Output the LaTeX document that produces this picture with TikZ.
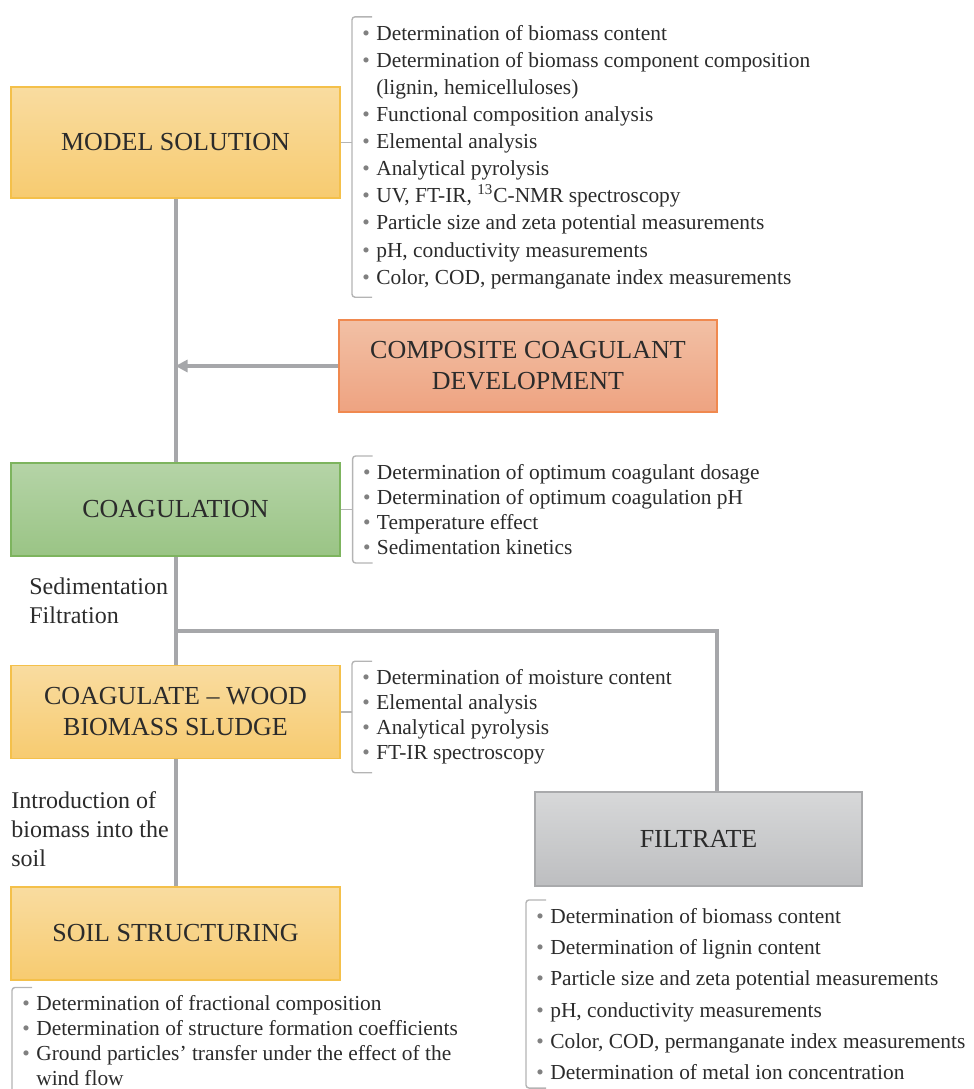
\documentclass[tikz,border=0pt]{standalone}
\usepackage{fontspec}
\setmainfont{Liberation Serif}
\usetikzlibrary{arrows.meta,positioning}

\definecolor{goldTop}{HTML}{F9DCA0}
\definecolor{goldBot}{HTML}{F7CB70}
\definecolor{goldLine}{HTML}{F4C04A}
\definecolor{rustTop}{HTML}{F2C0A5}
\definecolor{rustBot}{HTML}{EEA381}
\definecolor{rustLine}{HTML}{F0894F}
\definecolor{leafTop}{HTML}{B5D4A7}
\definecolor{leafBot}{HTML}{9AC485}
\definecolor{leafLine}{HTML}{7DB45E}
\definecolor{ashTop}{HTML}{D7D8D9}
\definecolor{ashBot}{HTML}{BDBEC0}
\definecolor{ashLine}{HTML}{A9AAAC}
\definecolor{linkgray}{HTML}{A6A7AA}
\definecolor{brkgray}{HTML}{B4B4B4}
\definecolor{bulgray}{HTML}{808080}
\definecolor{txt}{HTML}{2B2B2B}

\newcommand{\bul}{\makebox[0.65em][l]{\color{bulgray}\textbullet}}
\newcommand{\cnt}{\hspace*{0.65em}}

\begin{document}
\begin{tikzpicture}[x=0.5pt,y=-0.5pt,>={Triangle[length=6pt,width=6pt]},node distance=6pt]
        \tikzstyle{box}=[rectangle,line width=0.6pt,minimum width=164.5pt,minimum height=46.5pt,align=center,text=txt,font=\fontsize{13}{15.5}\selectfont]
        \tikzstyle{gold}=[box,draw=goldLine,top color=goldTop,bottom color=goldBot]
        \tikzstyle{rust}=[box,draw=rustLine,top color=rustTop,bottom color=rustBot]
        \tikzstyle{leaf}=[box,draw=leafLine,top color=leafTop,bottom color=leafBot]
        \tikzstyle{ash}=[box,draw=ashLine,top color=ashTop,bottom color=ashBot]
        \tikzstyle{list}=[align=left,anchor=west,inner xsep=5pt,inner ysep=4pt,text=txt,font=\fontsize{10.7}{12.5}\selectfont]
        \tikzstyle{lbl}=[align=left,anchor=west,inner sep=0pt,text=txt,font=\fontsize{12}{14.5}\selectfont]
        \tikzstyle{brk}=[draw=brkgray,line width=0.7pt,rounded corners=1.5pt]
        \tikzstyle{tie}=[draw=brkgray,line width=0.6pt]
        \tikzstyle{link}=[draw=linkgray,line width=2pt]
        \useasboundingbox (0,0) rectangle (974,1089);

        % stages
        \node[gold,minimum height=55.5pt](ms) at (175.5,142.5){MODEL SOLUTION};
        \node[rust,minimum width=189pt,minimum height=46pt](comp) at (528,366){COMPOSITE COAGULANT\\DEVELOPMENT};
        \node[leaf](coag) at (175.5,509.5){COAGULATION};
        \node[gold](cw) at (175.5,712){COAGULATE -- WOOD\\BIOMASS SLUDGE};
        \node[ash,minimum width=163.5pt,minimum height=47pt](filt) at (698.5,839){FILTRATE};
        \node[gold](soil) at (175.5,933.5){SOIL STRUCTURING};

        % analyses
        \node[list,font=\fontsize{10.7}{13.55}\selectfont](msl) at (352,157){%
            \bul Determination of biomass content\\
            \bul Determination of biomass component composition\\
            \cnt (lignin, hemicelluloses)\\
            \bul Functional composition analysis\\
            \bul Elemental analysis\\
            \bul Analytical pyrolysis\\
            \bul UV, FT-IR, \textsuperscript{13}C-NMR spectroscopy\\
            \bul Particle size and zeta potential measurements\\
            \bul pH, conductivity measurements\\
            \bul Color, COD, permanganate index measurements};
        \node[list,right=6pt of coag](cgl){%
            \bul Determination of optimum coagulant dosage\\
            \bul Determination of optimum coagulation pH\\
            \bul Temperature effect\\
            \bul Sedimentation kinetics};
        \node[list](cwl) at (352,717){%
            \bul Determination of moisture content\\
            \bul Elemental analysis\\
            \bul Analytical pyrolysis\\
            \bul FT-IR spectroscopy};
        \node[list,font=\fontsize{10.7}{15.6}\selectfont](ftl) at (526,994){%
            \bul Determination of biomass content\\
            \bul Determination of lignin content\\
            \bul Particle size and zeta potential measurements\\
            \bul pH, conductivity measurements\\
            \bul Color, COD, permanganate index measurements\\
            \bul Determination of metal ion concentration};
        \node[list](sol) at (12,1041){%
            \bul Determination of fractional composition\\
            \bul Determination of structure formation coefficients\\
            \bul Ground particles’ transfer under the effect of the\\
            \cnt wind flow};

        % process notes
        \node[lbl](sed) at (29,600.5){Sedimentation\\Filtration};
        \node[lbl](intro) at (11,829){Introduction of\\biomass into the\\soil};

        \coordinate (fork) at (coag.south |- 0,631);
        \coordinate (bend) at (717,631);

        % flow
        \draw[link] (ms.south) -- (coag.north);
        \draw[link,->] (comp.west) -- (comp.west -| ms.south);
        \draw[link] (coag.south) -- (cw.north);
        \draw[link] (fork) -- (bend) -- (bend |- filt.north);
        \draw[link] (cw.south) -- (soil.north);

        % brackets
        \foreach \l in {msl,cgl,cwl,ftl,sol}
            \draw[brk] ([xshift=10pt]\l.north west) -- (\l.north west) -- (\l.south west) -- ([xshift=10pt]\l.south west);
        \draw[tie] (ms.east) -- (ms.east -| msl.west);
        \draw[tie] (coag.east) -- (cgl.west);
        \draw[tie] (cw.east) -- (cw.east -| cwl.west);
        \end{tikzpicture}
\end{document}
